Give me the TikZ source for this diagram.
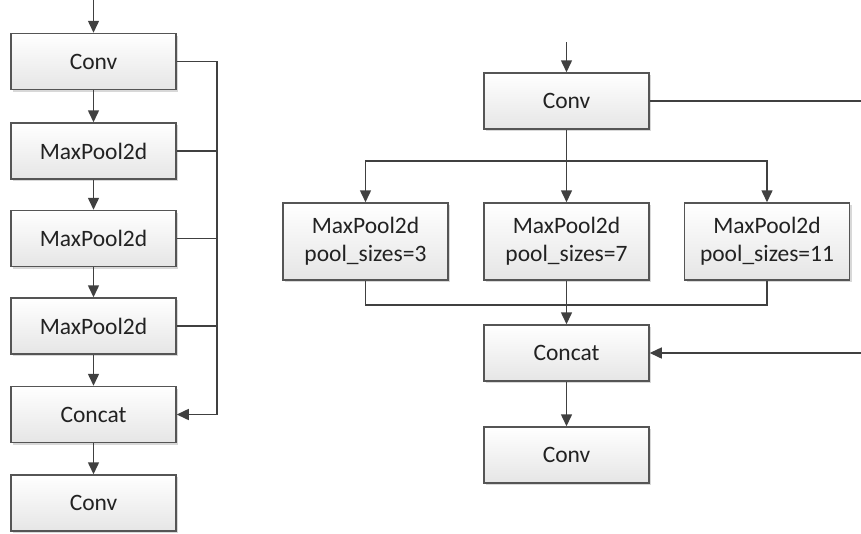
\documentclass[tikz,border=0pt]{standalone}
\usepackage{fontspec}
\setmainfont{Carlito}
\usetikzlibrary{arrows.meta,shadows}
\definecolor{lineclr}{HTML}{404040}
\definecolor{boxclr}{HTML}{555555}
\definecolor{txtclr}{HTML}{222222}
\tikzset{
  blk/.style={draw=boxclr, line width=1.5pt, top color=white, bottom color=black!10,
    minimum width=165pt, minimum height=56pt, inner sep=0pt, align=center,
    font=\fontsize{23.5}{28}\selectfont, text=txtclr,
    drop shadow={shadow xshift=2pt, shadow yshift=-2pt, fill=black!25, opacity=0.6}},
  conn/.style={draw=lineclr, line width=1.5pt},
  arr/.style={conn, -{Triangle[length=12pt,width=11pt]}}
}
\begin{document}
\begin{tikzpicture}[x=1pt,y=-1pt]
\path[use as bounding box, clip] (0,0) rectangle (861,533);
\fill[white] (0,0) rectangle (861,533);
% left column
\node[blk] (lc1) at (93.5,61.5) {Conv};
\node[blk] (lm1) at (93.5,151) {MaxPool2d};
\node[blk] (lm2) at (93.5,238.5) {MaxPool2d};
\node[blk] (lm3) at (93.5,326) {MaxPool2d};
\node[blk] (lcc) at (93.5,414.5) {Concat};
\node[blk] (lc2) at (93.5,503) {Conv};
\coordinate (lin) at (93.5,0);
\coordinate (lbus) at (217,61.5);
\draw[arr] (lin) -- (lc1);
\draw[arr] (lc1) -- (lm1);
\draw[arr] (lm1) -- (lm2);
\draw[arr] (lm2) -- (lm3);
\draw[arr] (lm3) -- (lcc);
\draw[arr] (lcc) -- (lc2);
\draw[arr] (lc1.east) -- (lbus) |- (lcc.east);
\draw[conn] (lm1.east) -- (lm1.east -| lbus);
\draw[conn] (lm2.east) -- (lm2.east -| lbus);
\draw[conn] (lm3.east) -- (lm3.east -| lbus);
% right part
\node[blk] (rc1) at (566.5,101) {Conv};
\node[blk, minimum height=77pt] (rp1) at (365.5,241.5) {MaxPool2d\\pool\_sizes=3};
\node[blk, minimum height=77pt] (rp2) at (566.5,241.5) {MaxPool2d\\pool\_sizes=7};
\node[blk, minimum height=77pt] (rp3) at (767,241.5) {MaxPool2d\\pool\_sizes=11};
\node[blk] (rcc) at (566.5,353) {Concat};
\node[blk] (rc2) at (566.5,455) {Conv};
\coordinate (rin) at (566.5,42);
\coordinate (rsplit) at (566.5,161);
\coordinate (rjoin) at (566.5,305);
\coordinate (rfar) at (866,101);
\draw[arr] (rin) -- (rc1);
\draw[arr] (rc1) -- (rp2);
\draw[arr] (rsplit) -| (rp1.north);
\draw[arr] (rsplit) -| (rp3.north);
\draw[conn] (rp1.south) |- (rjoin);
\draw[conn] (rp3.south) |- (rjoin);
\draw[conn] (rp2.south) -- (rjoin);
\draw[arr] (rjoin) -- (rcc);
\draw[arr] (rcc) -- (rc2);
\draw[arr] (rc1.east) -- (rfar) |- (rcc.east);
\end{tikzpicture}
\end{document}
